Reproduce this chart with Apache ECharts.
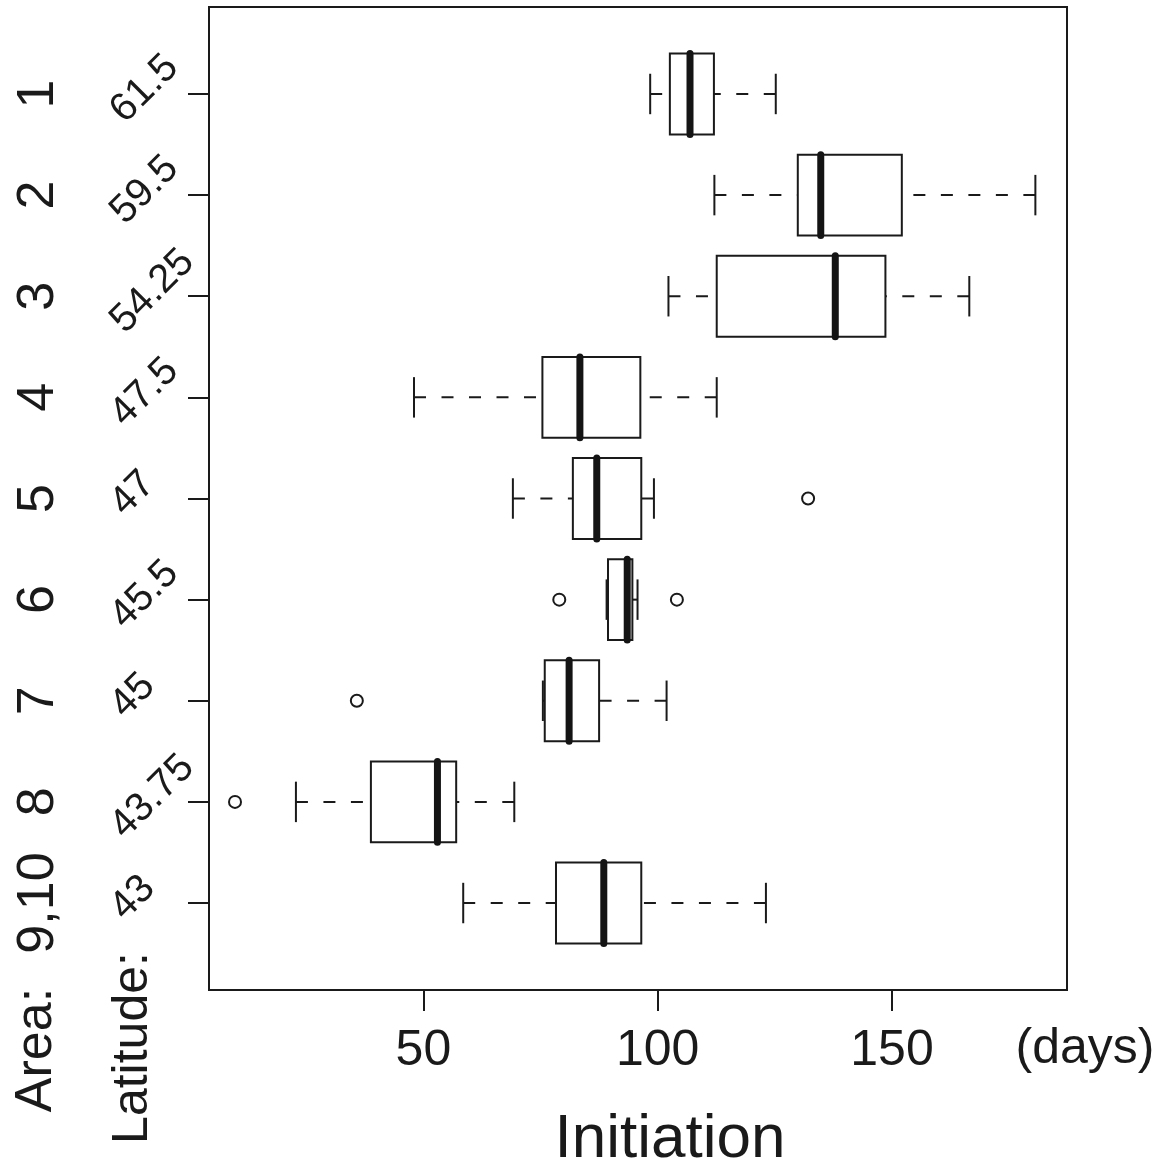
<!DOCTYPE html>
<html>
<head>
<meta charset="utf-8">
<script src="https://cdn.jsdelivr.net/npm/echarts@6/dist/echarts.min.js"></script>
<style>
html,body{margin:0;padding:0;background:#fff;}
#chart{width:1161px;height:1172px;}
</style>
</head>
<body>
<div id="chart"></div>
<script>
// ---- data ----
const areaLabels = ['1','2','3','4','5','6','7','8','9,10'];
const latitudeLabels = ['61.5','59.5','54.25','47.5','47','45.5','45','43.75','43'];
const rowPositions = [1,2,3,4,5,6,7,8,9];
const whiskerLow  = [98.4, 112.1, 102.3, 48.0, 69.1, 89.1, 75.5, 22.8, 58.5];
const q1          = [102.6, 129.9, 112.6, 75.4, 81.9, 89.4, 75.9, 38.8, 78.3];
const median      = [106.9, 134.8, 137.9, 83.4, 87.0, 93.5, 81.1, 53.0, 88.5];
const q3          = [112.0, 152.1, 148.6, 96.3, 96.5, 94.6, 87.5, 57.0, 96.5];
const whiskerHigh = [125.2, 180.6, 166.5, 112.6, 99.2, 95.7, 101.9, 69.4, 123.1];
const outlierRow   = [5, 6, 6, 7, 8];
const outlierValue = [132.1, 79.0, 104.1, 35.8, 9.8];
const xTicks = [50, 100, 150];
const xLabelText = '(days)';
const xTitle = 'Initiation';
const areaTitle = 'Area:';
const latTitle = 'Latitude:';

// ---- build ----
const FONT = '"Liberation Sans", Arial, Helvetica, sans-serif';
const INK = '#1a1a1a';
const boxData = rowPositions.map((r, i) => [r, whiskerLow[i], q1[i], median[i], q3[i], whiskerHigh[i]]);
const outlierData = outlierRow.map((r, i) => [outlierValue[i], r]);
const latData = rowPositions.map((r, i) => [r, i]);

const measureCtx = document.createElement('canvas').getContext('2d');
const LAT_SIZE = 40;
measureCtx.font = LAT_SIZE + 'px "Liberation Sans"';

const X_MIN = 4.25, X_MAX = 187.35;

const chart = echarts.init(document.getElementById('chart'), null, {renderer: 'canvas'});

const option = {
  backgroundColor: '#fff',
  animation: false,
  grid: {
    left: 209, top: 7, right: 94, bottom: 182,
    show: true, borderColor: INK, borderWidth: 2, backgroundColor: 'transparent',
    outerBoundsMode: 'none'
  },
  xAxis: {
    type: 'value', min: X_MIN, max: X_MAX,
    axisLine: {show: false},
    splitLine: {show: false},
    axisTick: {show: true, length: 21, customValues: xTicks, lineStyle: {color: INK, width: 2}},
    axisLabel: {show: true, customValues: xTicks, margin: 36, fontSize: 50, fontFamily: FONT, color: INK,
      showMinLabel: true, showMaxLabel: true}
  },
  yAxis: {
    type: 'value', min: 0.14, max: 9.86, inverse: true,
    axisLine: {show: false},
    splitLine: {show: false},
    axisTick: {show: true, length: 21, customValues: rowPositions, lineStyle: {color: INK, width: 2}},
    axisLabel: {show: true, customValues: rowPositions, rotate: 90, margin: 144,
      fontSize: 52, fontFamily: FONT, color: INK,
      formatter: function (v) { return areaLabels[Math.round(v) - 1]; }}
  },
  graphic: [
    {type: 'text', x: 670, y: 1140, style: {text: xTitle, fontSize: 62, fontFamily: FONT, fill: INK,
      align: 'center', verticalAlign: 'middle', textAlign: 'center', textVerticalAlign: 'middle'}},
    {type: 'text', x: 1085, y: 1049, style: {text: xLabelText, fontSize: 50, fontFamily: FONT, fill: INK,
      align: 'center', verticalAlign: 'middle', textAlign: 'center', textVerticalAlign: 'middle'}},
    {type: 'text', x: 37, y: 1050, rotation: Math.PI / 2, style: {text: areaTitle, fontSize: 52, fontFamily: FONT, fill: INK,
      align: 'center', verticalAlign: 'middle', textAlign: 'center', textVerticalAlign: 'middle'}},
    {type: 'text', x: 133, y: 1048, rotation: Math.PI / 2, style: {text: latTitle, fontSize: 50, fontFamily: FONT, fill: INK,
      align: 'center', verticalAlign: 'middle', textAlign: 'center', textVerticalAlign: 'middle'}}
  ],
  series: [
    {
      type: 'custom',
      clip: false,
      data: boxData,
      encode: {x: [1, 2, 3, 4, 5], y: 0},
      renderItem: function (params, api) {
        const row = api.value(0);
        const lo = api.value(1), a = api.value(2), m = api.value(3), b = api.value(4), hi = api.value(5);
        const pLo = api.coord([lo, row]), pA = api.coord([a, row]), pM = api.coord([m, row]);
        const pB = api.coord([b, row]), pHi = api.coord([hi, row]);
        const yTop = api.coord([a, row - 0.4])[1], yBot = api.coord([a, row + 0.4])[1];
        const cTop = api.coord([a, row - 0.2])[1], cBot = api.coord([a, row + 0.2])[1];
        const lineStyle = {stroke: INK, lineWidth: 2, fill: null};
        const dashStyle = {stroke: INK, lineWidth: 2, lineDash: [12, 15.5], lineCap: 'butt', fill: null};
        return {
          type: 'group',
          children: [
            {type: 'line', shape: {x1: pLo[0], y1: pLo[1], x2: pA[0], y2: pA[1]}, style: dashStyle},
            {type: 'line', shape: {x1: pHi[0], y1: pHi[1], x2: pB[0], y2: pB[1]}, style: dashStyle},
            {type: 'line', shape: {x1: pLo[0], y1: cTop, x2: pLo[0], y2: cBot}, style: lineStyle},
            {type: 'line', shape: {x1: pHi[0], y1: cTop, x2: pHi[0], y2: cBot}, style: lineStyle},
            {type: 'rect', shape: {x: pA[0], y: yTop, width: pB[0] - pA[0], height: yBot - yTop},
              style: {stroke: INK, lineWidth: 2, fill: 'rgba(0,0,0,0)'}},
            {type: 'line', shape: {x1: pM[0], y1: yTop, x2: pM[0], y2: yBot},
              style: {stroke: '#141414', lineWidth: 7, lineCap: 'round'}}
          ]
        };
      }
    },
    {
      type: 'scatter',
      data: outlierData,
      symbol: 'emptyCircle',
      symbolSize: 12,
      itemStyle: {color: INK, borderColor: INK, borderWidth: 2.2, opacity: 1},
      z: 3
    },
    {
      type: 'custom',
      clip: false,
      data: latData,
      encode: {y: 0},
      renderItem: function (params, api) {
        const row = api.value(0);
        const idx = api.value(1);
        const text = latitudeLabels[idx];
        const p = api.coord([X_MIN, row]);
        const w = measureCtx.measureText(text).width;
        const span = (w + 0.716 * LAT_SIZE) * 0.7071;
        const cx = p[0] - 102 + span / 2;
        const cy = p[1] - 5;
        return {
          type: 'text',
          x: cx, y: cy,
          rotation: Math.PI / 4,
          style: {text: text, fontSize: LAT_SIZE, fontFamily: FONT, fill: INK,
            align: 'center', verticalAlign: 'middle', textAlign: 'center', textVerticalAlign: 'middle'}
        };
      }
    }
  ]
};
chart.setOption(option);
</script>
</body>
</html>
